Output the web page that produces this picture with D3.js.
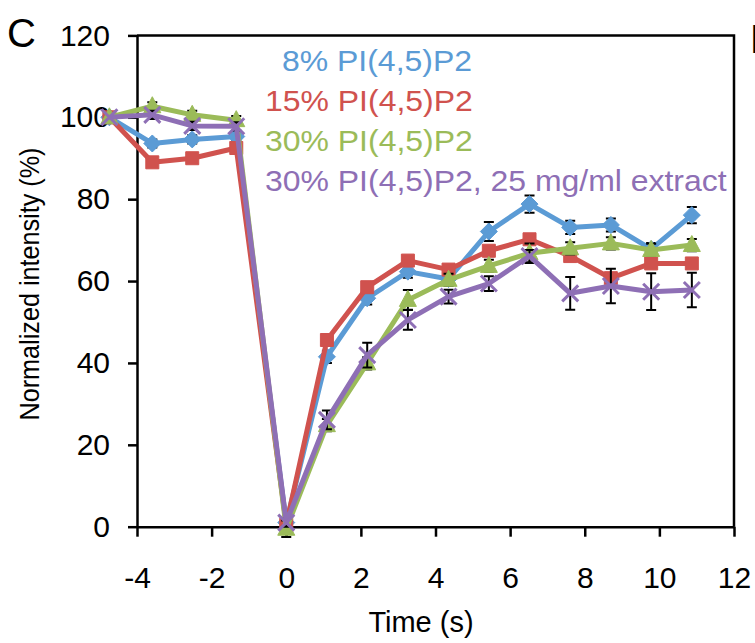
<!DOCTYPE html>
<html>
<head>
<meta charset="utf-8">
<script src="https://cdn.jsdelivr.net/npm/d3@7/dist/d3.min.js"></script>
<style>
  html, body { margin: 0; padding: 0; background: #fff; }
  svg { display: block; }
  text { font-family: Arial, "Liberation Sans", sans-serif; }
</style>
</head>
<body>
<svg id="chart" width="755" height="643"></svg>
<script>
// Sampling times (s) relative to the stimulus
const time = [-4.74, -3.59, -2.52, -1.34, 0, 1.09, 2.17, 3.26, 4.35, 5.43, 6.52, 7.61, 8.70, 9.78, 10.87];

// Normalized intensity (%) per condition
const pip2_8  = [100, 93.6, 94.6, 95.3, 1.0, 41.5, 55.8, 62.3, 60.5, 72.1, 78.8, 73.1, 73.7, 67.8, 76.1];
const pip2_15 = [100, 89.0, 90.0, 92.5, 0.5, 45.6, 58.5, 65.0, 62.8, 67.4, 70.2, 66.1, 60.7, 64.3, 64.3];
const pip2_30 = [100, 102.7, 100.6, 99.3, -0.5, 24.8, 39.9, 55.4, 60.3, 63.7, 66.8, 68.0, 69.2, 67.6, 68.8];
const pip2_30x = [100, 100.6, 97.9, 97.8, 1.0, 26.1, 41.9, 50.5, 56.2, 59.4, 66.1, 57.0, 58.8, 57.4, 57.8];

// Error bars (± %)
const err_8   = [0, 1.0, 1.0, 1.0, 1.0, 1.5, 1.5, 1.5, 1.5, 2.3, 2.1, 1.6, 1.6, 1.5, 2.0];
const err_15  = [0, 1.0, 1.0, 1.0, 0.5, 1.0, 1.0, 1.0, 1.0, 1.0, 1.0, 1.0, 1.0, 1.0, 1.0];
const err_30  = [0, 1.0, 1.0, 1.0, 2.0, 1.5, 1.5, 2.4, 1.5, 1.5, 2.4, 1.5, 1.5, 1.5, 1.5];
const err_30x = [0, 1.0, 1.0, 1.0, 1.0, 2.3, 3.0, 2.4, 1.7, 1.8, 1.5, 4.0, 4.2, 4.5, 4.2];

const seriesNames = ["8% PI(4,5)P2", "15% PI(4,5)P2", "30% PI(4,5)P2", "30% PI(4,5)P2, 25 mg/ml extract"];
const seriesColors = ["#5B9BD5", "#D0524E", "#9BBB59", "#8E6FB5"];
const seriesMarkers = ["diamond", "square", "triangle", "cross"];

const xTicks = [-4, -2, 0, 2, 4, 6, 8, 10, 12];
const yTicks = [0, 20, 40, 60, 80, 100, 120];

const errs = [err_8, err_15, err_30, err_30x];
const series = [pip2_8, pip2_15, pip2_30, pip2_30x].map((vals, i) => ({
  name: seriesNames[i],
  color: seriesColors[i],
  marker: seriesMarkers[i],
  points: vals.map((v, j) => ({ t: time[j], v, e: errs[i][j] }))
}));

const svg = d3.select("#chart");

const x = d3.scaleLinear().domain([-4, 12]).range([137, 734]);
const y = d3.scaleLinear().domain([0, 120]).range([526.7, 35.4]);

// Plot area frame (top and right edges)
svg.append("path")
  .attr("d", `M${x(-4)},${y(120)}H${x(12)}V${y(0)}`)
  .attr("fill", "none").attr("stroke", "#000").attr("stroke-width", 2.5);

// Axes
const yAxis = svg.append("g")
  .attr("transform", `translate(${x(-4)},0)`)
  .call(d3.axisLeft(y).tickValues(yTicks).tickFormat(d => String(d))
    .tickSize(9).tickPadding(18).tickSizeOuter(0));
const xAxis = svg.append("g")
  .attr("transform", `translate(0,${y(0)})`)
  .call(d3.axisBottom(x).tickValues(xTicks).tickFormat(d => String(d))
    .tickSize(10).tickPadding(30).tickSizeOuter(0));

[yAxis, xAxis].forEach(g => {
  g.select(".domain").attr("stroke", "#000").attr("stroke-width", 2.5);
  g.selectAll(".tick line").attr("stroke", "#000").attr("stroke-width", 2.5);
  g.selectAll(".tick text").attr("fill", "#000").style("font-size", "30px")
    .style("font-family", "Arial, 'Liberation Sans', sans-serif");
});

// Series: error bars, line, markers
const line = d3.line().x(d => x(d.t)).y(d => y(d.v));

function markerPath(type) {
  switch (type) {
    case "diamond": return "M0,-8.5L8.5,0L0,8.5L-8.5,0Z";
    case "square": return "M-6.5,-6.5H6.5V6.5H-6.5Z";
    case "triangle": return "M0,-9.5L8.5,6.5H-8.5Z";
    case "cross": return "M-8,-8L8,8M-8,8L8,-8";
  }
}

series.forEach(s => {
  const g = svg.append("g");
  const eb = g.append("g");
  s.points.filter(p => p.e > 0).forEach(p => {
    const cx = x(p.t), y1 = y(p.v - p.e), y2 = y(p.v + p.e);
    eb.append("path")
      .attr("d", `M${cx},${y1}V${y2}M${cx - 5},${y1}H${cx + 5}M${cx - 5},${y2}H${cx + 5}`)
      .attr("stroke", "#000").attr("stroke-width", 2).attr("fill", "none");
  });
  g.append("path")
    .datum(s.points)
    .attr("d", line)
    .attr("fill", "none")
    .attr("stroke", s.color)
    .attr("stroke-width", 5)
    .attr("stroke-linejoin", "round");
  g.selectAll(".mk")
    .data(s.points)
    .join("path")
    .attr("transform", d => `translate(${x(d.t)},${y(d.v)})`)
    .attr("d", markerPath(s.marker))
    .attr("fill", s.marker === "cross" ? "none" : s.color)
    .attr("stroke", s.color)
    .attr("stroke-width", s.marker === "cross" ? 3 : 1);
});

// Legend (coloured text entries)
const legendX = [282, 265, 265, 265];
const legend = svg.append("g");
series.forEach((s, i) => {
  legend.append("text")
    .attr("transform", `translate(${legendX[i]},${71 + i * 40}) scale(1.065,1)`)
    .attr("fill", s.color)
    .style("font-size", "30px")
    .text(s.name);
});

// Axis titles
svg.append("text")
  .attr("x", 421).attr("y", 632)
  .attr("text-anchor", "middle")
  .style("font-size", "29px")
  .text("Time (s)");

svg.append("text")
  .attr("transform", "translate(39,284) rotate(-90) scale(0.9,1)")
  .attr("text-anchor", "middle")
  .style("font-size", "28px")
  .text("Normalized intensity (%)");

// Panel letters
svg.append("text").attr("x", 7).attr("y", 47).style("font-size", "40px").text("C");
svg.append("text").attr("x", 750).attr("y", 53).style("font-size", "40px").text("D");
</script>
</body>
</html>
